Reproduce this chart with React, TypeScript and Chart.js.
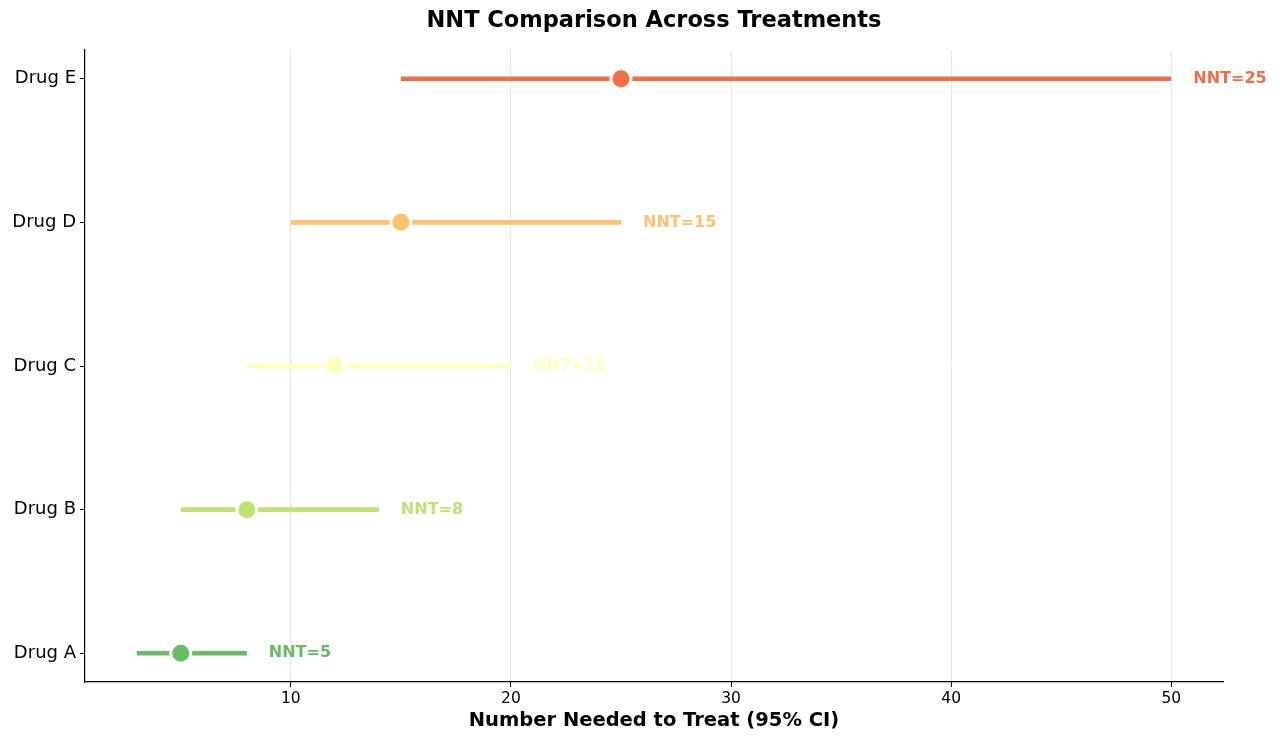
import React, { useEffect, useRef } from "react";
import { Chart, registerables } from "chart.js";

Chart.register(...registerables);

const drugs = ["Drug A", "Drug B", "Drug C", "Drug D", "Drug E"];
const nnt = [5, 8, 12, 15, 25];
const ciLow = [3, 5, 8, 10, 15];
const ciHigh = [8, 14, 20, 25, 50];
const colors = ["#66bd63", "#bde373", "#fefebd", "#fdc46c", "#f46d43"];
const xTicks = [10, 20, 30, 40, 50];

const FONT = "'DejaVu Sans', sans-serif";

export default function App() {
  const ref = useRef<HTMLCanvasElement | null>(null);

  useEffect(() => {
    if (!ref.current) return;
    const lineSets = drugs.map((d, i) => ({
      type: "line" as const,
      label: d + " CI",
      data: [
        { x: ciLow[i], y: i },
        { x: ciHigh[i], y: i },
      ],
      borderColor: colors[i],
      borderWidth: 4.6,
      borderCapStyle: "butt",
      pointRadius: 0,
      showLine: true,
      order: 2,
    }));
    const pointSet = {
      type: "scatter" as const,
      label: "NNT",
      data: drugs.map((d, i) => ({ x: nnt[i], y: i })),
      backgroundColor: colors,
      borderColor: "#ffffff",
      borderWidth: 3,
      pointRadius: 10,
      pointHoverRadius: 10,
      order: 1,
    };

    const textPlugin = {
      id: "texts",
      afterDatasetsDraw(chart: any) {
        const ctx = chart.ctx;
        const xs = chart.scales.x;
        const ys = chart.scales.y;
        ctx.save();
        ctx.font = `bold 16px ${FONT}`;
        ctx.textBaseline = "middle";
        ctx.textAlign = "left";
        drugs.forEach((d, i) => {
          ctx.fillStyle = colors[i];
          ctx.fillText(`NNT=${nnt[i]}`, xs.getPixelForValue(ciHigh[i] + 1), ys.getPixelForValue(i));
        });
        const ca = chart.chartArea;
        ctx.fillStyle = "#000";
        ctx.textAlign = "center";
        ctx.font = `bold 22.5px ${FONT}`;
        ctx.fillText("NNT Comparison Across Treatments", (ca.left + ca.right) / 2, 21);
        ctx.font = `bold 19.5px ${FONT}`;
        ctx.fillText("Number Needed to Treat (95% CI)", (ca.left + ca.right) / 2, 721);
        ctx.restore();
      },
    };

    const chart = new Chart(ref.current, {
      type: "scatter",
      data: { datasets: [...lineSets, pointSet] as any },
      plugins: [textPlugin],
      options: {
        animation: false,
        responsive: true,
        maintainAspectRatio: false,
        layout: { padding: { top: 50, right: 57, left: 0, bottom: 0 } },
        plugins: {
          legend: { display: false },
          tooltip: { enabled: false },
          title: { display: false },
        },
        scales: {
          x: {
            type: "linear",
            min: 0.65,
            max: 52.35,
            afterBuildTicks: (s: any) => {
              s.ticks = xTicks.map((v) => ({ value: v }));
            },
            afterFit: (s: any) => {
              s.height = 60;
            },
            grid: { color: "#e8e8e8", lineWidth: 1, tickColor: "#000", tickLength: 5 },
            border: { display: true, color: "#000", width: 1.2 },
            ticks: { color: "#000", font: { family: FONT, size: 15.5 }, padding: 3, maxRotation: 0 },
          },
          y: {
            type: "linear",
            min: -0.2,
            max: 4.2,
            afterBuildTicks: (s: any) => {
              s.ticks = drugs.map((_, i) => ({ value: i }));
            },
            afterFit: (s: any) => {
              s.width = 85;
            },
            grid: { color: "rgba(0,0,0,0)", tickColor: "#000", tickLength: 5 },
            border: { display: true, color: "#000", width: 1.2 },
            ticks: {
              color: "#000",
              font: { family: FONT, size: 18 },
              padding: 4,
              callback: (v: any) => drugs[Math.round(Number(v))] ?? "",
            },
          },
        },
      },
    });
    return () => chart.destroy();
  }, []);

  return (
    <div style={{ position: "fixed", left: 0, top: 0, width: 1280, height: 742, background: "#fff" }}>
      <canvas ref={ref} />
    </div>
  );
}
